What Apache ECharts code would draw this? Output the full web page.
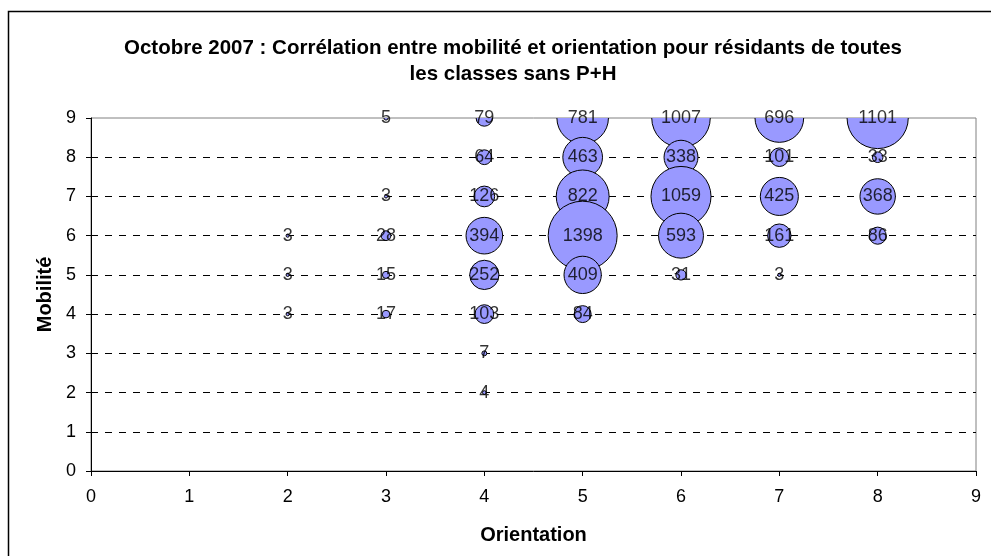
<!DOCTYPE html>
<html>
<head>
<meta charset="utf-8">
<script src="https://cdn.jsdelivr.net/npm/echarts@6/dist/echarts.min.js"></script>
<style>html,body{margin:0;padding:0;background:#fff}#c{width:991px;height:556px}</style>
</head>
<body>
<div id="c"></div>
<script>
// Orientation (x), Mobilité (y), count
var orientation = [2,2,2, 3,3,3,3,3, 4,4,4,4,4,4,4,4, 5,5,5,5,5,5, 6,6,6,6,6, 7,7,7,7,7, 8,8,8,8];
var mobilite    = [6,5,4, 9,7,6,5,4, 9,8,7,6,5,4,3,2, 9,8,7,6,5,4, 9,8,7,6,5, 9,8,7,6,5, 9,8,7,6];
var effectifs   = [3,3,3, 5,3,28,15,17, 79,64,126,394,252,103,7,4, 781,463,822,1398,409,84, 1007,338,1059,593,31, 696,101,425,161,3, 1101,33,368,86];
var xTicks = [0,1,2,3,4,5,6,7,8,9];
var yTicks = [0,1,2,3,4,5,6,7,8,9];

var data = orientation.map(function(x,i){ return [x, mobilite[i], effectifs[i]]; });
var FONT = '"Liberation Sans", Arial, sans-serif';

var chart = echarts.init(document.getElementById('c'), null, {renderer:'canvas'});
chart.setOption({
  backgroundColor:'#fff',
  animation:false,
  title:{
    text:'Octobre 2007 : Corrélation entre mobilité et orientation pour résidants de toutes\nles classes sans P+H',
    left:508, top:30, textAlign:'center',
    textStyle:{fontFamily:FONT, fontWeight:'bold', fontSize:20.5, lineHeight:26, color:'#000'}
  },
  graphic:[{
    type:'rect', shape:{x:8.5,y:11.5,width:1100,height:700},
    style:{fill:null, stroke:'#000', lineWidth:1.5}, z:0, silent:true
  }],
  grid:{left:91, right:15, top:118, bottom:85, show:true, borderColor:'#808080', borderWidth:1, backgroundColor:'transparent'},
  xAxis:{
    type:'value', min:0, max:9, interval:1,
    name:'Orientation', nameLocation:'middle', nameGap:54,
    nameTextStyle:{fontFamily:FONT, fontWeight:'bold', fontSize:20, color:'#000'},
    axisLine:{lineStyle:{color:'#000', width:1}},
    axisTick:{show:true, inside:false, length:5, lineStyle:{color:'#000'}},
    axisLabel:{fontFamily:FONT, fontSize:18, color:'#000', margin:17, formatter:function(v){return xTicks.indexOf(v)>=0?String(v):'';}},
    splitLine:{show:false}
  },
  yAxis:{
    type:'value', min:0, max:9, interval:1,
    name:'Mobilité', nameLocation:'middle', nameGap:36, nameRotate:90,
    nameTextStyle:{fontFamily:FONT, fontWeight:'bold', fontSize:20, color:'#000'},
    axisLine:{lineStyle:{color:'#000', width:1}},
    axisTick:{show:true, inside:false, length:5, lineStyle:{color:'#000'}},
    axisLabel:{fontFamily:FONT, fontSize:18, color:'#000', margin:15, formatter:function(v){return yTicks.indexOf(v)>=0?String(v):'';}},
    splitLine:{show:true, showMinLine:false, showMaxLine:false, lineStyle:{color:'#000', type:[7,7], width:1}}
  },
  series:[{
    type:'custom',
    clip:true,
    data:data,
    z:3,
    renderItem:function(params, api){
      var p = api.coord([api.value(0), api.value(1)]);
      var r = 1.845*Math.sqrt(api.value(2))/2;
      return {type:'circle', shape:{cx:p[0], cy:p[1], r:r},
        style:{fill:'#9999FF', stroke:'#000', lineWidth:1}};
    }
  },{
    type:'scatter',
    data:data,
    z:5,
    symbol:'circle', symbolSize:0,
    label:{show:true, position:'inside', formatter:function(p){return String(p.value[2]);},
      fontFamily:FONT, fontSize:18, color:'#000'}
  }]
});
</script>
</body>
</html>
